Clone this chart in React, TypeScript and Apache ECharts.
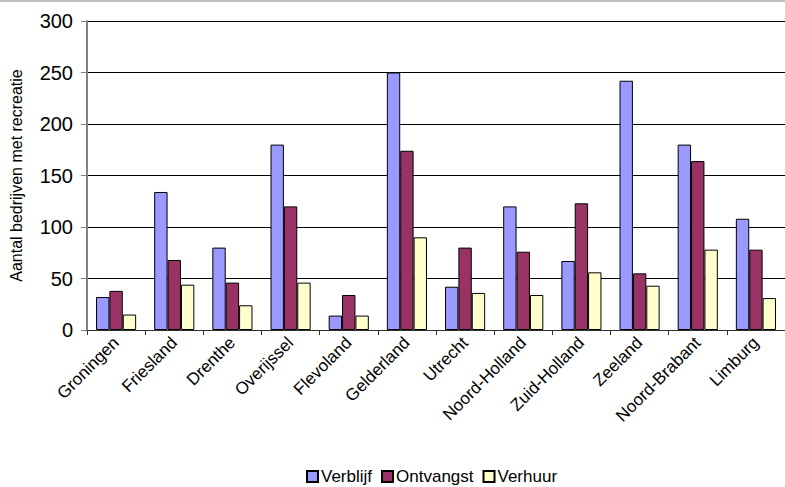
import React, { useEffect, useRef } from "react";
import * as echarts from "echarts";

const categories = [
  "Groningen", "Friesland", "Drenthe", "Overijssel", "Flevoland", "Gelderland",
  "Utrecht", "Noord-Holland", "Zuid-Holland", "Zeeland", "Noord-Brabant", "Limburg",
];
const verblijf = [32, 134, 80, 180, 14, 250, 42, 120, 67, 242, 180, 108];
const ontvangst = [38, 68, 46, 120, 34, 174, 80, 76, 123, 55, 164, 78];
const verhuur = [15, 44, 24, 46, 14, 90, 36, 34, 56, 43, 78, 31];
const yTicks = [0, 50, 100, 150, 200, 250, 300];

const FONT = "'Liberation Sans', Arial, sans-serif";

export default function App() {
  const ref = useRef<HTMLDivElement>(null);
  useEffect(() => {
    document.body.style.margin = "0";
    const chart = echarts.init(ref.current!, null, { renderer: "svg" });
    const mk = (name: string, data: number[], color: string) => ({
      name,
      type: "bar",
      data,
      barGap: "0%",
      barCategoryGap: "31%",
      itemStyle: { color, borderColor: "#000", borderWidth: 1 },
    });
    chart.setOption({
      animation: false,
      backgroundColor: "#fff",
      textStyle: { fontFamily: FONT },
      graphic: [
        { type: "rect", shape: { x: 0, y: 0, width: 785, height: 2 }, style: { fill: "#c0c0c0" } },
      ],
      grid: { left: 83, right: -3, top: 21, bottom: 157, containLabel: false },
      legend: {
        bottom: -3,
        left: 301,
        icon: "rect",
        itemWidth: 11,
        itemHeight: 11,
        itemGap: 9,
        textStyle: { fontSize: 17, color: "#000", fontFamily: FONT, padding: [0, 0, 0, -2] },
        data: ["Verblijf", "Ontvangst", "Verhuur"],
      },
      xAxis: {
        type: "category",
        data: categories,
        axisLine: { lineStyle: { color: "#303030", width: 1 } },
        axisTick: { show: true, interval: 0, length: 5, lineStyle: { color: "#303030" } },
        axisLabel: { interval: 0, rotate: 45, fontSize: 17, color: "#000", margin: 10, fontFamily: FONT },
      },
      yAxis: {
        type: "value",
        min: yTicks[0],
        max: yTicks[yTicks.length - 1],
        interval: 50,
        name: "Aantal bedrijven met recreatie",
        nameLocation: "middle",
        nameGap: 63,
        nameTextStyle: { fontSize: 16, color: "#000", fontFamily: FONT },
        axisLine: { show: true, lineStyle: { color: "#808080", width: 2 } },
        axisTick: { show: true, length: 6, lineStyle: { color: "#808080" } },
        axisLabel: { fontSize: 20, color: "#000", margin: 14, fontFamily: FONT },
        splitLine: { show: true, lineStyle: { color: "#000", width: 1 } },
      },
      series: [
        mk("Verblijf", verblijf, "#9999FF"),
        mk("Ontvangst", ontvangst, "#993366"),
        mk("Verhuur", verhuur, "#FFFFCC"),
      ],
    });
    return () => chart.dispose();
  }, []);
  return <div ref={ref} style={{ position: "absolute", left: 0, top: 0, width: 785, height: 487 }} />;
}
